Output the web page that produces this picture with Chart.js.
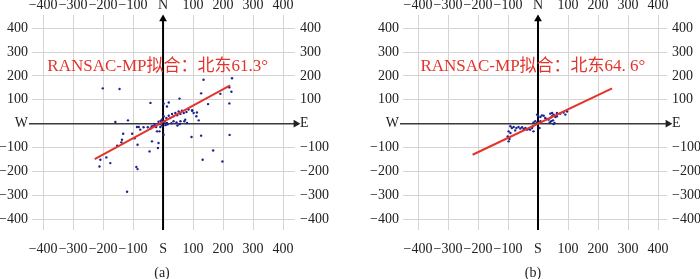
<!DOCTYPE html>
<html>
<head>
<meta charset="utf-8">
<script src="https://cdn.jsdelivr.net/npm/chart.js@4.4.1/dist/chart.umd.min.js"></script>
<style>
  body { margin: 0; background: #fff; }
  #wrap { position: relative; width: 700px; height: 279px; overflow: hidden; }
  canvas { position: absolute; top: 0; }
  .cap { position: absolute; top: 265px; width: 40px; text-align: center;
         font: 14px 'Liberation Serif', 'Times New Roman', serif; color: #222; }
</style>
</head>
<body>
<div id="wrap">
  <canvas id="chartA" width="350" height="279" style="left:0"></canvas>
  <canvas id="chartB" width="350" height="279" style="left:350px"></canvas>
  <div class="cap" style="left:142px">(a)</div>
  <div class="cap" style="left:513px">(b)</div>
</div>
<script>
// tick positions (same on every axis)
const tickVals = [-400, -300, -200, -100, 0, 100, 200, 300, 400]

// panel (a) scatter
const ptsAX = [-201, -145, -42, 2, 19, 13, 55, 135, 230, 127, 221, 191, 228, 150, 221, 97, 113, 111, 119, 71,
  -159, -117, -87, -76, -65, -51, -42, -103, -133, -137, -153, -85, -37, -15, -45, -20, -12, -209, -189, -176,
  -212, -89, -85, -120, 167, 132, 198, 95, 127, 222, 2, -95, -139, -17, -81, -9, -23,
  -4, 2, 11, 19, 24, 30, 35, 41, 47, 52, 58, 63, 69, 78, 85, 97, 102, 74, 80, 58, 35, 13,
  -5, -10, -15, -28, -33, -38, -8, -3, 6, 8, 15, 28, 45, 48, 55]
const ptsAY = [148, 145, 87, 84, 89, 72, 105, 184, 190, 127, 152, 125, 134, 82, 85, 56, 47, 31, 14, 10,
  7, 14, -14, -25, -15, -15, -20, -42, -42, -67, -92, -88, -74, -81, -116, -32, -32, -151, -141, -165,
  -179, -181, -190, -285, -112, -151, -158, -56, -50, -47, -46, -61, -78, -102, -14, -14, -14,
  17, 31, 24, 33, 24, 41, 31, 45, 35, 51, 41, 54, 45, 49, 59, 54, 45, 17, 3, 10, 10, 3,
  5, -2, 8, -5, -10, -12, 12, -8, 8, -6, -3, 2, 5, -8, -2]
const fitAX = [-228, 224]
const fitAY = [-148, 160]

// panel (b) scatter
const ptsBX = [-3, 0, 8, 13, 19, 24, 30, 35, 41, 47, 52, 58, 63, 50, 44, 39, 55, -15, -9, -3, 2, 8,
  -92, -87, -81, -72, -65, -59, -53, -48, -42, -37, -31, -26, -20, -17, -76, -98, -92, -101, -95, 5, -15,
  -98, 97, 85, 74, 63, 91, 47, 41, 52]
const ptsBY = [38, 33, 28, 35, 33, 24, 20, 17, 24, 31, 38, 28, 31, 14, 10, 5, 3, 5, 10, 3, 5, 10,
  -11, -18, -14, -18, -14, -20, -15, -22, -18, -25, -22, -25, -18, -11, -28, -32, -39, -53, -64, -18, -32,
  -74, 51, 47, 42, 45, 38, 45, 42, -1]
const fitBX = [-218, 247]
const fitBY = [-130, 148]

const serif = "'Liberation Serif', 'Times New Roman', serif"
const gridColor = '#d8d3d3'
const red = '#e3342b'

const fmt = (v) => v < 0 ? '\u2212' + (-v) : String(v)

const fitLabelPlugin = {
  id: 'fitLabel',
  afterDatasetsDraw(chart, args, opts) {
    const ctx = chart.ctx
    ctx.save()
    ctx.fillStyle = red
    ctx.font = "17px 'Liberation Serif', 'Noto Sans CJK SC', serif"
    ctx.textBaseline = 'middle'
    ctx.textAlign = 'left'
    ctx.fillText(opts.text, chart.scales.x.getPixelForValue(opts.x), chart.scales.y.getPixelForValue(opts.y))
    ctx.restore()
  }
}

function axisOpts(position, zeroLabel, size, pad, withGrid, min, max) {
  const horiz = position === 'top' || position === 'bottom'
  return {
    type: 'linear',
    position: position,
    min: min,
    max: max,
    afterBuildTicks: (s) => { s.ticks = tickVals.map(v => ({ value: v })) },
    afterFit: (s) => { if (horiz) s.height = size; else s.width = size },
    grid: { display: withGrid, color: gridColor, lineWidth: 1, drawTicks: false },
    border: { display: false },
    ticks: {
      padding: pad,
      color: '#222',
      font: { family: serif, size: 14 },
      maxRotation: 0,
      autoSkip: false,
      callback: (v) => v === 0 ? zeroLabel : fmt(v)
    }
  }
}

function buildPanel(id, xs, ys, fx, fy, xMin, xMax, leftW, rightW, text) {
  const yMin = -445, yMax = 455
  const pts = xs.map((x, i) => ({ x: x, y: ys[i] }))
  const fit = fx.map((x, i) => ({ x: x, y: fy[i] }))
  return new Chart(document.getElementById(id), {
    type: 'scatter',
    data: {
      datasets: [
        {
          data: fit, showLine: true, borderColor: red, borderWidth: 2,
          pointRadius: 0
        },
        {
          data: pts, pointRadius: 1.2, pointBorderWidth: 0,
          pointBackgroundColor: '#1c2390', backgroundColor: '#1c2390'
        },
        {
          // vertical N-S axis with arrow
          data: [{ x: 0, y: yMin }, { x: 0, y: 438 }], showLine: true,
          borderColor: '#000', borderWidth: 2, clip: false,
          pointStyle: 'triangle', pointRadius: [0, 4.5], pointRotation: 0,
          pointBackgroundColor: '#000', pointBorderWidth: 0
        },
        {
          // horizontal W-E axis with arrow
          data: [{ x: xMin - 10, y: 0 }, { x: xMax + 3, y: 0 }], showLine: true,
          borderColor: '#3a3a3a', borderWidth: 1.5, clip: false,
          pointStyle: 'triangle', pointRadius: [0, 4.5], pointRotation: 90,
          pointBackgroundColor: '#222', pointBorderWidth: 0
        }
      ]
    },
    options: {
      responsive: false,
      animation: false,
      devicePixelRatio: 1,
      layout: { padding: 0 },
      plugins: {
        legend: { display: false },
        tooltip: { enabled: false },
        fitLabel: text
      },
      scales: {
        x: axisOpts('bottom', 'S', 49, 11, true, xMin, xMax),
        x2: axisOpts('top', 'N', 15, 1, false, xMin, xMax),
        y: axisOpts('left', 'W', leftW, 4, true, yMin, yMax),
        y2: axisOpts('right', 'E', rightW, 5, false, yMin, yMax)
      }
    },
    plugins: [fitLabelPlugin]
  })
}

buildPanel('chartA', ptsAX, ptsAY, fitAX, fitAY, -437, 440, 32, 55,
  { text: 'RANSAC-MP拟合：北东61.3°', x: -386, y: 238 })
buildPanel('chartB', ptsBX, ptsBY, fitBX, fitBY, -450, 430, 53, 33,
  { text: 'RANSAC-MP拟合：北东64. 6°', x: -392, y: 238 })
</script>
</body>
</html>
